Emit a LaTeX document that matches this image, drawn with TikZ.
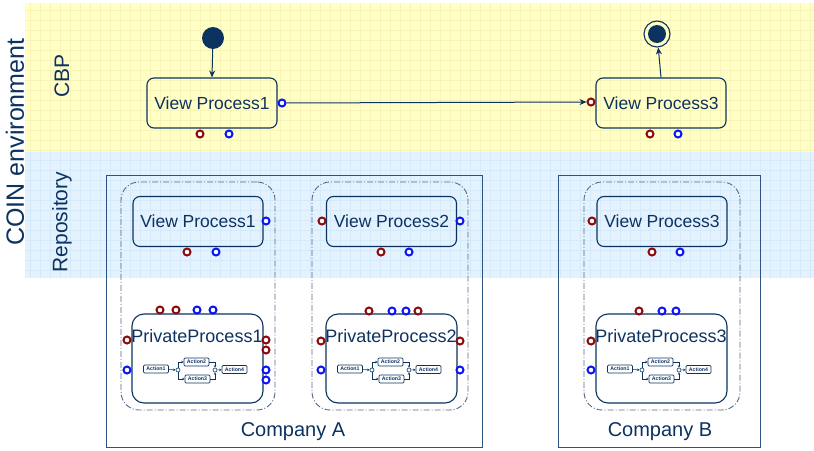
\documentclass[tikz,border=0pt]{standalone}
\usepackage{fontspec}
\setmainfont{Liberation Sans}
\usetikzlibrary{arrows.meta}
\definecolor{navy}{HTML}{0C3260}
\definecolor{portred}{HTML}{8B0A0A}
\definecolor{portblue}{HTML}{0A14F5}
\definecolor{cbpbg}{HTML}{FFFFC6}
\definecolor{cbpgrid}{HTML}{F8F3B6}
\definecolor{repobg}{HTML}{E4F2FE}
\definecolor{repogrid}{HTML}{D4E9F9}
\definecolor{compline}{HTML}{2C5380}
\definecolor{poolline}{HTML}{56698A}
\tikzstyle{view}=[draw=navy, line width=1.1pt, rounded corners=7pt, minimum width=130pt, minimum height=50pt, text=navy, font=\fontsize{17.5}{20}\selectfont]
\tikzstyle{priv}=[draw=navy, line width=1.1pt, rounded corners=12pt, minimum width=131pt, minimum height=89pt]
\tikzstyle{ptitle}=[text=navy, inner sep=0pt, font=\fontsize{18}{20}\selectfont]
\tikzstyle{pred}=[circle, draw=portred, fill=white, line width=2pt, minimum size=7pt, inner sep=0pt]
\tikzstyle{pblue}=[circle, draw=portblue, fill=white, line width=2pt, minimum size=7pt, inner sep=0pt]
\tikzstyle{act}=[draw=navy, line width=0.7pt, rounded corners=1.2pt, minimum width=25pt, minimum height=8pt, inner sep=0pt, text=navy, font=\fontsize{5.2}{6}\selectfont\bfseries]
\tikzstyle{joint}=[circle, draw=navy, fill=white, line width=0.6pt, minimum size=4pt, inner sep=0pt]
\tikzstyle{company}=[draw=compline, line width=0.9pt, inner sep=0pt]
\tikzstyle{pool}=[draw=poolline, line width=0.9pt, rounded corners=18pt, dash pattern=on 6pt off 2pt on 1pt off 2pt, inner sep=0pt]
\tikzstyle{side}=[text=navy, rotate=90]
\tikzstyle{flow}=[draw=navy, line width=1pt, -{Stealth[length=7pt,width=6pt]}]
\tikzstyle{mini}=[draw=navy, line width=0.6pt, -{Stealth[length=2.5pt,width=2.5pt]}]

\begin{document}
\begin{tikzpicture}[x=1pt, y=-1pt]

\useasboundingbox (0,0) rectangle (814,450);

% background bands
\fill[cbpbg] (25,3) rectangle (814,152);
\fill[repobg] (25,152) rectangle (814,278);
\foreach \gx in {30,40,...,810} {
  \draw[cbpgrid, line width=0.5pt] (\gx,3) -- (\gx,152);
  \draw[repogrid, line width=0.5pt] (\gx,152) -- (\gx,278);
}
\foreach \gy in {10,20,...,150}
  \draw[cbpgrid, line width=0.5pt] (25,\gy) -- (814,\gy);
\foreach \gy in {160,170,...,270}
  \draw[repogrid, line width=0.5pt] (25,\gy) -- (814,\gy);

\node[side, font=\fontsize{25}{28}\selectfont] (coin) at (15,142) {COIN environment};
\node[side, font=\fontsize{21}{24}\selectfont] (cbp) at (62,76) {CBP};
\node[side, font=\fontsize{21}{24}\selectfont] (repo) at (62,222) {Repository};

% companies and pools
\node[company, minimum width=376pt, minimum height=272pt] (compA) at (294,311) {};
\node[text=navy, font=\fontsize{20}{22}\selectfont] (compAt) at (293,432) {Company A};
\node[company, minimum width=202pt, minimum height=272pt] (compB) at (659,311) {};
\node[text=navy, font=\fontsize{20}{22}\selectfont] (compBt) at (660,432) {Company B};

\node[pool, minimum width=154pt, minimum height=228pt] (pool1) at (198,296) {};
\node[pool, minimum width=156pt, minimum height=228pt] (pool2) at (390,296) {};
\node[pool, minimum width=156pt, minimum height=228pt] (pool3) at (662,296) {};

% CBP
\node[circle, fill=navy, minimum size=22pt, inner sep=0pt] (init) at (213,38) {};
\node[view] (vp1c) at (212,103) {View Process1};
\node[view] (vp3c) at (661,103) {View Process3};
\node[circle, draw=navy, line width=1.1pt, minimum size=26pt, inner sep=0pt] (fin) at (657,34) {};
\fill[navy] (fin.center) circle (9);

\node[pblue] (vp1cO) at (282,103) {};
\node[pred] (vp1cR) at (200,134) {};
\node[pblue] (vp1cB) at (229,134) {};
\node[pred] (vp3cI) at (591,102) {};
\node[pred] (vp3cR) at (650,134) {};
\node[pblue] (vp3cB) at (678,134) {};

\draw[flow] (init) -- (vp1c.north);
\draw[flow] (vp1cO) -- (vp3cI);
\draw[flow] (vp3c.north) -- (fin);

% Repository
\node[view] (vp1r) at (198,221.5) {View Process1};
\node[view] (vp2r) at (391.5,221.5) {View Process2};
\node[view] (vp3r) at (662,221.5) {View Process3};

\node[pblue] (vp1rO) at (266,221) {};
\node[pred] (vp1rR) at (187,252) {};
\node[pblue] (vp1rB) at (216,252) {};
\node[pred] (vp2rI) at (322,221) {};
\node[pblue] (vp2rO) at (460,221) {};
\node[pred] (vp2rR) at (381,252) {};
\node[pblue] (vp2rB) at (409,252) {};
\node[pred] (vp3rI) at (592,221) {};
\node[pred] (vp3rR) at (652,252) {};
\node[pblue] (vp3rB) at (680,252) {};

% private processes
\node[priv] (pp1) at (197.5,358.5) {};
\node[ptitle] (pp1t) at (197,336) {PrivateProcess1};
\node[priv] (pp2) at (391.5,358.5) {};
\node[ptitle] (pp2t) at (391,336) {PrivateProcess2};
\node[priv] (pp3) at (661.5,358.5) {};
\node[ptitle] (pp3t) at (661,336) {PrivateProcess3};

\node[pred] (pp1r1) at (160,310) {};
\node[pred] (pp1r2) at (176,310) {};
\node[pblue] (pp1b1) at (197,310) {};
\node[pblue] (pp1b2) at (213,310) {};
\node[pred] (pp1li) at (127,340) {};
\node[pblue] (pp1lb) at (127,370) {};
\node[pred] (pp1o1) at (266,340) {};
\node[pred] (pp1o2) at (266,350) {};
\node[pblue] (pp1o3) at (266,370) {};
\node[pblue] (pp1o4) at (266,380) {};

\node[pred] (pp2r1) at (369,311) {};
\node[pblue] (pp2b1) at (392,311) {};
\node[pblue] (pp2b2) at (406,311) {};
\node[pred] (pp2r2) at (418,311) {};
\node[pred] (pp2li) at (321,341) {};
\node[pblue] (pp2lb) at (321,370) {};
\node[pred] (pp2o1) at (460,341) {};
\node[pblue] (pp2o2) at (460,370) {};

\node[pred] (pp3r1) at (639,311) {};
\node[pblue] (pp3b1) at (662,311) {};
\node[pblue] (pp3b2) at (676,311) {};
\node[pred] (pp3li) at (591,341) {};
\node[pblue] (pp3lb) at (591,370) {};

% inner action flows
\foreach \i/\dx in {1/0, 2/194, 3/464} {
  \begin{scope}[shift={(\dx,0)}]
    \node[act] (a1\i) at (156,369) {Action1};
    \node[act] (a2\i) at (196.5,362) {Action2};
    \node[act] (a3\i) at (197.5,379) {Action3};
    \node[act] (a4\i) at (234.5,369.5) {Action4};
    \node[joint] (fk\i) at (178,370) {};
    \node[joint] (jn\i) at (215,370) {};
    \draw[mini] (a1\i) -- (fk\i);
    \draw[mini] (fk\i) |- (a2\i);
    \draw[mini] (fk\i) |- (a3\i);
    \draw[mini] (a2\i) -| (jn\i);
    \draw[mini] (a3\i) -| (jn\i);
    \draw[mini] (jn\i) -- (a4\i);
  \end{scope}
}

\end{tikzpicture}
\end{document}
